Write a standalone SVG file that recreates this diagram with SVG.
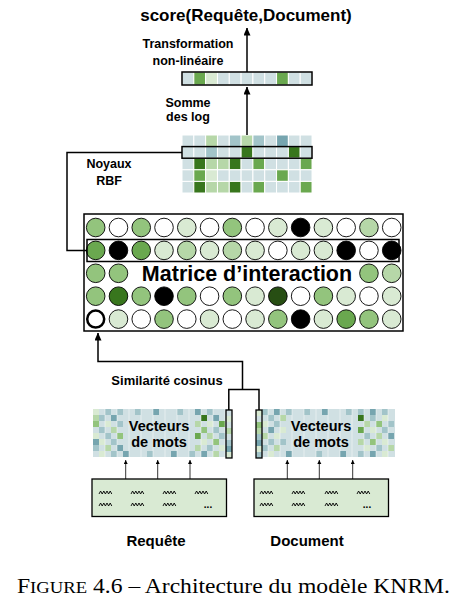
<svg xmlns="http://www.w3.org/2000/svg" width="467" height="615" viewBox="0 0 467 615">
<style>
text{font-family:"Liberation Sans",Arial,sans-serif;font-weight:bold;fill:#000}
.lbl{font-size:12.5px;text-anchor:middle}
.cap{font-family:"Liberation Serif","Times New Roman",serif;font-weight:normal;font-size:21.5px}
.ln{fill:none;stroke:#000;stroke-width:1.5}
.sm{fill:none;stroke:#000;stroke-width:0.8}
.box{fill:none;stroke:#000;stroke-width:1.5}
.c{stroke:#fff;stroke-width:1}
.ci{stroke:#000;stroke-width:0.9}
.bg{fill:#d0e0e3}.t1{fill:#a2c4c9}.t2{fill:#76a5af}.g1{fill:#d9ead3}.g2{fill:#b6d7a8}.g3{fill:#93c47d}.g4{fill:#6aa84f}.g5{fill:#38761d}.g6{fill:#274e13}.w{fill:#fff}.k{fill:#000}
.zz{fill:none;stroke:#000;stroke-width:0.9}
</style>
<defs>
<marker id="ah" markerUnits="userSpaceOnUse" markerWidth="8" markerHeight="8" refX="7.5" refY="3.5" orient="auto"><path d="M0,0 L8,3.5 L0,7 z" fill="#000"/></marker>
<marker id="as" markerUnits="userSpaceOnUse" markerWidth="5" markerHeight="5" refX="4" refY="2" orient="auto"><path d="M0,0 L4,2 L0,4 z" fill="#000"/></marker>
<path id="zz" d="M0,3 l1.6,-3 l1.6,3 l1.6,-3 l1.6,3 l1.6,-3 l1.6,3 l1.6,-3 l1.6,3"/>
</defs>

<g id="title"><text x="246" y="21" style="font-size:17px" text-anchor="middle">score(Requête,Document)</text></g>

<g id="labels">
<text class="lbl" x="188" y="48">Transformation</text>
<text class="lbl" x="188" y="65">non-linéaire</text>
<text class="lbl" x="188" y="107">Somme</text>
<text class="lbl" x="188" y="121">des log</text>
<text class="lbl" x="109" y="168">Noyaux</text>
<text class="lbl" x="109" y="185">RBF</text>
<text x="167" y="385" style="font-size:13px" text-anchor="middle">Similarité cosinus</text>
<text x="156" y="546" style="font-size:15px" text-anchor="middle">Requête</text>
<text x="307" y="546" style="font-size:15px" text-anchor="middle">Document</text>
</g>

<g id="top-bar">
<rect class="c bg" x="182" y="72" width="11.82" height="13"/>
<rect class="c g4" x="193.82" y="72" width="11.82" height="13"/>
<rect class="c g1" x="205.64" y="72" width="11.82" height="13"/>
<rect class="c bg" x="217.46" y="72" width="11.82" height="13"/>
<rect class="c bg" x="229.28" y="72" width="11.82" height="13"/>
<rect class="c bg" x="241.1" y="72" width="11.82" height="13"/>
<rect class="c bg" x="252.92" y="72" width="11.82" height="13"/>
<rect class="c bg" x="264.74" y="72" width="11.82" height="13"/>
<rect class="c g4" x="276.56" y="72" width="11.82" height="13"/>
<rect class="c bg" x="288.38" y="72" width="11.82" height="13"/>
<rect class="c bg" x="300.2" y="72" width="11.82" height="13"/>
<rect class="box" x="182" y="72" width="130" height="13"/>
</g>

<g id="kernel-grid">
<g transform="translate(182,135)">
<g>
<rect class="c bg" x="0" y="0" width="11.82" height="11.6"/><rect class="c bg" x="11.82" y="0" width="11.82" height="11.6"/><rect class="c g2" x="23.64" y="0" width="11.82" height="11.6"/><rect class="c bg" x="35.46" y="0" width="11.82" height="11.6"/><rect class="c t1" x="47.28" y="0" width="11.82" height="11.6"/><rect class="c g2" x="59.1" y="0" width="11.82" height="11.6"/><rect class="c t1" x="70.92" y="0" width="11.82" height="11.6"/><rect class="c bg" x="82.74" y="0" width="11.82" height="11.6"/><rect class="c t2" x="94.56" y="0" width="11.82" height="11.6"/><rect class="c bg" x="106.38" y="0" width="11.82" height="11.6"/><rect class="c bg" x="118.2" y="0" width="11.82" height="11.6"/>
</g>
<g transform="translate(0,11.6)">
<rect class="c bg" x="0" y="0" width="11.82" height="11.6"/><rect class="c bg" x="11.82" y="0" width="11.82" height="11.6"/><rect class="c t1" x="23.64" y="0" width="11.82" height="11.6"/><rect class="c bg" x="35.46" y="0" width="11.82" height="11.6"/><rect class="c bg" x="47.28" y="0" width="11.82" height="11.6"/><rect class="c g5" x="59.1" y="0" width="11.82" height="11.6"/><rect class="c bg" x="70.92" y="0" width="11.82" height="11.6"/><rect class="c bg" x="82.74" y="0" width="11.82" height="11.6"/><rect class="c bg" x="94.56" y="0" width="11.82" height="11.6"/><rect class="c g5" x="106.38" y="0" width="11.82" height="11.6"/><rect class="c bg" x="118.2" y="0" width="11.82" height="11.6"/>
</g>
<g transform="translate(0,23.2)">
<rect class="c bg" x="0" y="0" width="11.82" height="11.6"/><rect class="c g5" x="11.82" y="0" width="11.82" height="11.6"/><rect class="c g2" x="23.64" y="0" width="11.82" height="11.6"/><rect class="c g2" x="35.46" y="0" width="11.82" height="11.6"/><rect class="c g5" x="47.28" y="0" width="11.82" height="11.6"/><rect class="c bg" x="59.1" y="0" width="11.82" height="11.6"/><rect class="c g4" x="70.92" y="0" width="11.82" height="11.6"/><rect class="c bg" x="82.74" y="0" width="11.82" height="11.6"/><rect class="c bg" x="94.56" y="0" width="11.82" height="11.6"/><rect class="c bg" x="106.38" y="0" width="11.82" height="11.6"/><rect class="c g4" x="118.2" y="0" width="11.82" height="11.6"/>
</g>
<g transform="translate(0,34.8)">
<rect class="c bg" x="0" y="0" width="11.82" height="11.6"/><rect class="c g4" x="11.82" y="0" width="11.82" height="11.6"/><rect class="c g1" x="23.64" y="0" width="11.82" height="11.6"/><rect class="c bg" x="35.46" y="0" width="11.82" height="11.6"/><rect class="c bg" x="47.28" y="0" width="11.82" height="11.6"/><rect class="c bg" x="59.1" y="0" width="11.82" height="11.6"/><rect class="c bg" x="70.92" y="0" width="11.82" height="11.6"/><rect class="c bg" x="82.74" y="0" width="11.82" height="11.6"/><rect class="c g4" x="94.56" y="0" width="11.82" height="11.6"/><rect class="c bg" x="106.38" y="0" width="11.82" height="11.6"/><rect class="c bg" x="118.2" y="0" width="11.82" height="11.6"/>
</g>
<g transform="translate(0,46.4)">
<rect class="c bg" x="0" y="0" width="11.82" height="11.6"/><rect class="c g5" x="11.82" y="0" width="11.82" height="11.6"/><rect class="c g2" x="23.64" y="0" width="11.82" height="11.6"/><rect class="c g2" x="35.46" y="0" width="11.82" height="11.6"/><rect class="c g5" x="47.28" y="0" width="11.82" height="11.6"/><rect class="c bg" x="59.1" y="0" width="11.82" height="11.6"/><rect class="c g4" x="70.92" y="0" width="11.82" height="11.6"/><rect class="c bg" x="82.74" y="0" width="11.82" height="11.6"/><rect class="c bg" x="94.56" y="0" width="11.82" height="11.6"/><rect class="c bg" x="106.38" y="0" width="11.82" height="11.6"/><rect class="c g4" x="118.2" y="0" width="11.82" height="11.6"/>
</g>
<rect class="box" x="0" y="11.6" width="130" height="11.6"/>
</g>
</g>

<g id="interaction-matrix">
<rect class="box" x="84" y="214" width="319" height="117"/>
<g id="row1">
<circle class="ci g3" cx="95.7" cy="227.5" r="9.3"/><circle class="ci w" cx="118.47" cy="227.5" r="9.3"/><circle class="ci g3" cx="141.24" cy="227.5" r="9.3"/><circle class="ci w" cx="164.01" cy="227.5" r="9.3"/><circle class="ci g1" cx="186.78" cy="227.5" r="9.3"/><circle class="ci w" cx="209.55" cy="227.5" r="9.3"/><circle class="ci g3" cx="232.32" cy="227.5" r="9.3"/><circle class="ci w" cx="255.09" cy="227.5" r="9.3"/><circle class="ci g1" cx="277.86" cy="227.5" r="9.3"/><circle class="ci k" cx="300.63" cy="227.5" r="9.3"/><circle class="ci g1" cx="323.4" cy="227.5" r="9.3"/><circle class="ci w" cx="346.17" cy="227.5" r="9.3"/><circle class="ci g2" cx="368.94" cy="227.5" r="9.3"/><circle class="ci w" cx="391.71" cy="227.5" r="9.3"/>
</g>
<g id="row2">
<circle class="ci g4" cx="95.7" cy="250.4" r="9.3"/><circle class="ci k" cx="118.47" cy="250.4" r="9.3"/><circle class="ci g4" cx="141.24" cy="250.4" r="9.3"/><circle class="ci g1" cx="164.01" cy="250.4" r="9.3"/><circle class="ci g2" cx="186.78" cy="250.4" r="9.3"/><circle class="ci g1" cx="209.55" cy="250.4" r="9.3"/><circle class="ci g2" cx="232.32" cy="250.4" r="9.3"/><circle class="ci g1" cx="255.09" cy="250.4" r="9.3"/><circle class="ci w" cx="277.86" cy="250.4" r="9.3"/><circle class="ci g1" cx="300.63" cy="250.4" r="9.3"/><circle class="ci g1" cx="323.4" cy="250.4" r="9.3"/><circle class="ci k" cx="346.17" cy="250.4" r="9.3"/><circle class="ci w" cx="368.94" cy="250.4" r="9.3"/><circle class="ci k" cx="391.71" cy="250.4" r="9.3"/>
<rect class="box" x="87" y="239.5" width="312" height="22"/>
</g>
<g id="row3">
<circle class="ci g3" cx="95.7" cy="273.3" r="9.3"/><circle class="ci g3" cx="118.47" cy="273.3" r="9.3"/><circle class="ci g3" cx="368.94" cy="273.3" r="9.3"/><circle class="ci g2" cx="391.71" cy="273.3" r="9.3"/>
<text x="247" y="281" style="font-size:21.5px" text-anchor="middle">Matrice d’interaction</text>
</g>
<g id="row4">
<circle class="ci g3" cx="95.7" cy="296.2" r="9.3"/><circle class="ci g5" cx="118.47" cy="296.2" r="9.3"/><circle class="ci g3" cx="141.24" cy="296.2" r="9.3"/><circle class="ci k" cx="164.01" cy="296.2" r="9.3"/><circle class="ci g3" cx="186.78" cy="296.2" r="9.3"/><circle class="ci w" cx="209.55" cy="296.2" r="9.3"/><circle class="ci g3" cx="232.32" cy="296.2" r="9.3"/><circle class="ci g1" cx="255.09" cy="296.2" r="9.3"/><circle class="ci g6" cx="277.86" cy="296.2" r="9.3"/><circle class="ci w" cx="300.63" cy="296.2" r="9.3"/><circle class="ci g3" cx="323.4" cy="296.2" r="9.3"/><circle class="ci g1" cx="346.17" cy="296.2" r="9.3"/><circle class="ci w" cx="368.94" cy="296.2" r="9.3"/><circle class="ci g1" cx="391.71" cy="296.2" r="9.3"/>
</g>
<g id="row5">
<circle class="w" cx="95.7" cy="319.1" r="8.5" stroke="#000" stroke-width="2.5"/><circle class="ci g1" cx="118.47" cy="319.1" r="9.3"/><circle class="ci w" cx="141.24" cy="319.1" r="9.3"/><circle class="ci g3" cx="164.01" cy="319.1" r="9.3"/><circle class="ci w" cx="186.78" cy="319.1" r="9.3"/><circle class="ci g1" cx="209.55" cy="319.1" r="9.3"/><circle class="ci w" cx="232.32" cy="319.1" r="9.3"/><circle class="ci g1" cx="255.09" cy="319.1" r="9.3"/><circle class="ci g3" cx="277.86" cy="319.1" r="9.3"/><circle class="ci k" cx="300.63" cy="319.1" r="9.3"/><circle class="ci g1" cx="323.4" cy="319.1" r="9.3"/><circle class="ci g4" cx="346.17" cy="319.1" r="9.3"/><circle class="ci g3" cx="368.94" cy="319.1" r="9.3"/><circle class="ci g1" cx="391.71" cy="319.1" r="9.3"/>
</g>
</g>

<g id="query-vectors">
<rect class="bg" x="93" y="409" width="138" height="48"/>
<g transform="translate(93,409)">
<rect class="g1" x="0" y="0" width="6" height="6"/><rect class="t1" x="12" y="0" width="6" height="6"/><rect class="t1" x="24" y="0" width="6" height="6"/><rect class="t1" x="42" y="0" width="6" height="6"/><rect class="t2" x="60" y="0" width="6" height="6"/><rect class="t1" x="84" y="0" width="6" height="6"/><rect class="t2" x="102" y="0" width="6" height="6"/><rect class="t1" x="114" y="0" width="6" height="6"/>
<rect class="g2" x="0" y="6" width="6" height="6"/><rect class="t1" x="6" y="6" width="6" height="6"/><rect class="t2" x="18" y="6" width="6" height="6"/><rect class="g5" x="108" y="6" width="6" height="6"/><rect class="t2" x="120" y="6" width="6" height="6"/>
<rect class="g3" x="0" y="12" width="6" height="6"/><rect class="g1" x="12" y="12" width="6" height="6"/><rect class="t1" x="24" y="12" width="6" height="6"/><rect class="g2" x="102" y="12" width="6" height="6"/><rect class="g1" x="114" y="12" width="6" height="6"/><rect class="g4" x="126" y="12" width="6" height="6"/>
<rect class="t1" x="6" y="18" width="6" height="6"/><rect class="g2" x="18" y="18" width="6" height="6"/><rect class="g3" x="108" y="18" width="6" height="6"/><rect class="t1" x="120" y="18" width="6" height="6"/>
<rect class="g1" x="0" y="24" width="6" height="6"/><rect class="t1" x="12" y="24" width="6" height="6"/><rect class="g3" x="24" y="24" width="6" height="6"/><rect class="g4" x="102" y="24" width="6" height="6"/><rect class="g2" x="114" y="24" width="6" height="6"/><rect class="t1" x="126" y="24" width="6" height="6"/>
<rect class="t2" x="0" y="30" width="6" height="6"/><rect class="g1" x="6" y="30" width="6" height="6"/><rect class="t1" x="18" y="30" width="6" height="6"/><rect class="g1" x="108" y="30" width="6" height="6"/><rect class="g3" x="120" y="30" width="6" height="6"/>
<rect class="t1" x="0" y="36" width="6" height="6"/><rect class="g2" x="12" y="36" width="6" height="6"/><rect class="t2" x="24" y="36" width="6" height="6"/><rect class="g2" x="102" y="36" width="6" height="6"/><rect class="t1" x="114" y="36" width="6" height="6"/><rect class="g1" x="126" y="36" width="6" height="6"/>
<rect class="g1" x="6" y="42" width="6" height="6"/><rect class="t1" x="18" y="42" width="6" height="6"/><rect class="t2" x="30" y="42" width="6" height="6"/><rect class="t1" x="54" y="42" width="6" height="6"/><rect class="t2" x="78" y="42" width="6" height="6"/><rect class="t1" x="96" y="42" width="6" height="6"/><rect class="t2" x="108" y="42" width="6" height="6"/><rect class="g2" x="120" y="42" width="6" height="6"/>
<path d="M12,0V48M24,0V48M36,0V48M48,0V48M60,0V48M72,0V48M84,0V48M96,0V48M108,0V48M120,0V48M132,0V48" stroke="#fff" stroke-opacity="0.6" stroke-width="0.8"/>
</g>
<g transform="translate(226,410)">
<rect class="bg" x="0" y="0" width="6" height="48"/><rect class="g1" x="0" y="6" width="6" height="6"/><rect class="g2" x="0" y="18" width="6" height="6"/><rect class="t1" x="0" y="30" width="6" height="6"/><rect class="t2" x="0" y="36" width="6" height="6"/><rect class="g1" x="0" y="42" width="6" height="6"/>
<rect class="box" x="0" y="0" width="6" height="48" style="stroke-width:1.3"/>
</g>
<text x="159" y="431" style="font-size:14.5px" text-anchor="middle">Vecteurs</text>
<text x="159" y="447" style="font-size:14.5px" text-anchor="middle">de mots</text>
</g>

<g id="doc-vectors">
<rect class="bg" x="262" y="409" width="133" height="48"/>
<g transform="translate(262,409)">
<rect class="t1" x="0" y="0" width="6" height="6"/><rect class="t2" x="12" y="0" width="6" height="6"/><rect class="t1" x="24" y="0" width="6" height="6"/><rect class="t1" x="42" y="0" width="6" height="6"/><rect class="t2" x="60" y="0" width="6" height="6"/><rect class="t1" x="84" y="0" width="6" height="6"/><rect class="t1" x="96" y="0" width="6" height="6"/><rect class="t2" x="108" y="0" width="6" height="6"/><rect class="t1" x="120" y="0" width="6" height="6"/>
<rect class="t1" x="6" y="6" width="6" height="6"/><rect class="g2" x="18" y="6" width="6" height="6"/><rect class="g5" x="96" y="6" width="6" height="6"/><rect class="t1" x="108" y="6" width="6" height="6"/><rect class="g1" x="120" y="6" width="6" height="6"/>
<rect class="g1" x="0" y="12" width="6" height="6"/><rect class="t1" x="12" y="12" width="6" height="6"/><rect class="g2" x="102" y="12" width="6" height="6"/><rect class="g3" x="114" y="12" width="6" height="6"/><rect class="t1" x="126" y="12" width="6" height="6"/>
<rect class="t2" x="6" y="18" width="6" height="6"/><rect class="g1" x="18" y="18" width="6" height="6"/><rect class="g4" x="96" y="18" width="6" height="6"/><rect class="g1" x="108" y="18" width="6" height="6"/><rect class="t1" x="120" y="18" width="6" height="6"/>
<rect class="g2" x="0" y="24" width="6" height="6"/><rect class="g1" x="12" y="24" width="6" height="6"/><rect class="t1" x="102" y="24" width="6" height="6"/><rect class="g2" x="114" y="24" width="6" height="6"/><rect class="t2" x="126" y="24" width="6" height="6"/>
<rect class="t1" x="6" y="30" width="6" height="6"/><rect class="t1" x="18" y="30" width="6" height="6"/><rect class="g2" x="96" y="30" width="6" height="6"/><rect class="g3" x="108" y="30" width="6" height="6"/><rect class="g1" x="120" y="30" width="6" height="6"/>
<rect class="t1" x="0" y="36" width="6" height="6"/><rect class="g2" x="12" y="36" width="6" height="6"/><rect class="g1" x="102" y="36" width="6" height="6"/><rect class="t1" x="114" y="36" width="6" height="6"/><rect class="g2" x="126" y="36" width="6" height="6"/>
<rect class="g1" x="6" y="42" width="6" height="6"/><rect class="t2" x="24" y="42" width="6" height="6"/><rect class="t1" x="54" y="42" width="6" height="6"/><rect class="t2" x="78" y="42" width="6" height="6"/><rect class="t1" x="96" y="42" width="6" height="6"/><rect class="t2" x="108" y="42" width="6" height="6"/><rect class="g1" x="120" y="42" width="6" height="6"/>
<path d="M6,0V48M18,0V48M30,0V48M42,0V48M54,0V48M66,0V48M78,0V48M90,0V48M102,0V48M114,0V48M126,0V48" stroke="#fff" stroke-opacity="0.6" stroke-width="0.8"/>
</g>
<g transform="translate(256,410)">
<rect class="bg" x="0" y="0" width="6" height="48"/><rect class="g1" x="0" y="0" width="6" height="6"/><rect class="g3" x="0" y="12" width="6" height="6"/><rect class="g2" x="0" y="18" width="6" height="6"/><rect class="t1" x="0" y="24" width="6" height="6"/><rect class="t2" x="0" y="30" width="6" height="6"/><rect class="g1" x="0" y="36" width="6" height="6"/><rect class="t1" x="0" y="42" width="6" height="6"/>
<rect class="box" x="0" y="0" width="6" height="48" style="stroke-width:1.3"/>
</g>
<text x="321" y="431" style="font-size:14.5px" text-anchor="middle">Vecteurs</text>
<text x="321" y="447" style="font-size:14.5px" text-anchor="middle">de mots</text>
</g>

<g id="query-box">
<rect x="92" y="479" width="134.5" height="37.5" fill="#d9ead3" stroke="#000" stroke-width="1.3"/>
<use href="#zz" class="zz" x="99" y="491"/><use href="#zz" class="zz" x="131" y="491"/><use href="#zz" class="zz" x="163" y="491"/><use href="#zz" class="zz" x="195" y="491"/>
<use href="#zz" class="zz" x="99" y="503"/><use href="#zz" class="zz" x="131" y="503"/><use href="#zz" class="zz" x="163" y="503"/>
<text x="208" y="508" style="font-size:10px" text-anchor="middle">...</text>
</g>

<g id="doc-box">
<rect x="254" y="479" width="134.5" height="37.5" fill="#d9ead3" stroke="#000" stroke-width="1.3"/>
<use href="#zz" class="zz" x="260" y="491"/><use href="#zz" class="zz" x="292" y="491"/><use href="#zz" class="zz" x="325" y="491"/><use href="#zz" class="zz" x="357" y="491"/>
<use href="#zz" class="zz" x="260" y="503"/><use href="#zz" class="zz" x="292" y="503"/><use href="#zz" class="zz" x="325" y="503"/>
<text x="367" y="508" style="font-size:10px" text-anchor="middle">...</text>
</g>

<g id="connectors">
<path class="ln" d="M247,72 V28" marker-end="url(#ah)"/>
<path class="ln" d="M247,135 V87" marker-end="url(#ah)"/>
<path class="ln" d="M182,152.5 H67 V250.5 H87"/>
<path class="ln" d="M228.8,410 V389.5 H259 V410"/>
<path class="ln" d="M242.5,389.5 V361.5 H98 V333" marker-end="url(#ah)"/>
<path class="sm" d="M125.7,479 V460" marker-end="url(#as)"/>
<path class="sm" d="M157.7,479 V460" marker-end="url(#as)"/>
<path class="sm" d="M190,479 V460" marker-end="url(#as)"/>
<path class="sm" d="M287.3,479 V460" marker-end="url(#as)"/>
<path class="sm" d="M319.3,479 V460" marker-end="url(#as)"/>
<path class="sm" d="M352.7,479 V460" marker-end="url(#as)"/>
</g>

<g id="caption">
<text class="cap" x="17" y="593" textLength="433" lengthAdjust="spacingAndGlyphs">F<tspan style="font-size:17px">IGURE</tspan> 4.6 – Architecture du modèle KNRM.</text>
</g>
</svg>
